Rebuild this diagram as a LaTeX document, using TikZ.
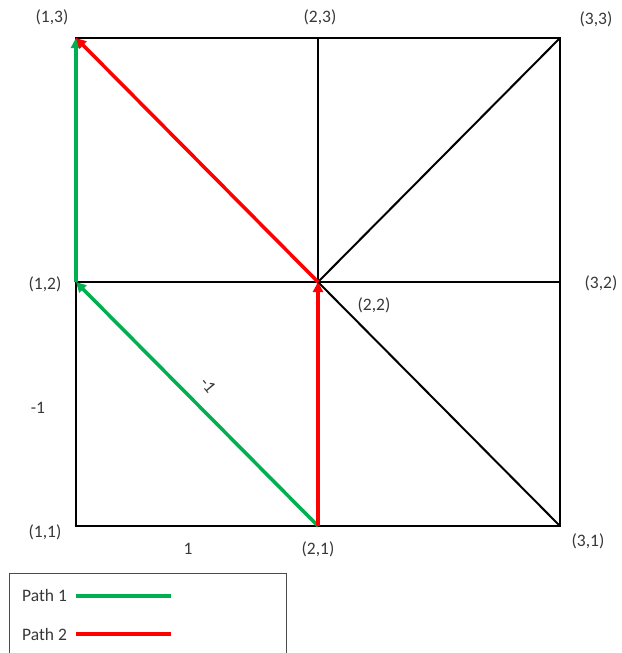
\documentclass[tikz,border=0pt]{standalone}
\usepackage{fontspec}
\setmainfont{Carlito}
\usetikzlibrary{arrows.meta}
\definecolor{pgreen}{HTML}{00B050}
\definecolor{pred}{HTML}{FF0000}
\begin{document}
\begin{tikzpicture}[x=1pt,y=-1pt,
  grid/.style={draw=black,line width=2pt},
  pathg/.style={draw=pgreen,line width=3.5pt},
  pathr/.style={draw=pred,line width=3.5pt},
  arr/.style={-{Triangle[length=10pt,width=10pt]}},
  lbl/.style={font=\fontsize{17.5}{19}\selectfont,text=black!78,inner sep=0pt}]
\useasboundingbox (0,0) rectangle (621,653);
% grid points
\coordinate (p11) at (76,526);
\coordinate (p21) at (318,526);
\coordinate (p31) at (560,526);
\coordinate (p12) at (76,282);
\coordinate (p22) at (318,282);
\coordinate (p32) at (560,282);
\coordinate (p13) at (76,38);
\coordinate (p23) at (318,38);
\coordinate (p33) at (560,38);
% grid
\draw[grid] (p11) rectangle (p33);
\draw[grid] (p21) -- (p23);
\draw[grid] (p12) -- (p32);
\draw[grid] (p22) -- (p33);
\draw[grid] (p22) -- (p31);
% paths
\draw[pathg,arr] (p21) -- (p12);
\draw[pathg,arr] (p12) -- (p13);
\draw[pathr,arr] (p21) -- (p22);
\draw[pathr,arr] (p22) -- (p13);
% labels
\node[lbl] (l13) at (52,17) {(1,3)};
\node[lbl] (l23) at (320,17) {(2,3)};
\node[lbl] (l33) at (596,19) {(3,3)};
\node[lbl] (l12) at (45,284) {(1,2)};
\node[lbl] (l32) at (601,283) {(3,2)};
\node[lbl] (l22) at (374,305) {(2,2)};
\node[lbl] (l11) at (45,532) {(1,1)};
\node[lbl] (l21) at (318,549) {(2,1)};
\node[lbl] (l31) at (588,541) {(3,1)};
\node[lbl] (w1) at (188,549) {1};
\node[lbl] (wm1) at (38,408) {-1};
\node[lbl,rotate=-50] (wd) at (208,385) {-1};
% legend
\draw[line width=1pt,draw=black!70] (9,573) rectangle (286,660);
\node[lbl,anchor=west] (lp1) at (22,595) {Path 1};
\node[lbl,anchor=west] (lp2) at (22,634) {Path 2};
\coordinate (g1) at (76,596);
\coordinate (g2) at (171,596);
\coordinate (r1) at (76,634);
\coordinate (r2) at (171,634);
\draw[pathg] (g1) -- (g2);
\draw[pathr] (r1) -- (r2);
\end{tikzpicture}
\end{document}
